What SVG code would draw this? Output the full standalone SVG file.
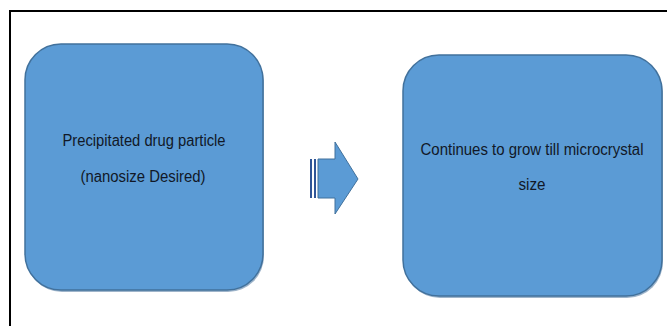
<svg xmlns="http://www.w3.org/2000/svg" width="667" height="326" viewBox="0 0 667 326">
<defs>
<style>
.box{fill:#5b9bd5;stroke:#41719c;stroke-width:1.5}
.shadow{fill:#3d6a96;opacity:0.5}
.t{font-family:"Liberation Sans",Arial,sans-serif;font-size:16px;fill:#111827;text-anchor:middle}
</style>
</defs>
<rect x="0" y="0" width="667" height="326" fill="#ffffff"/>
<rect x="10" y="11" width="670" height="330" fill="none" stroke="#000000" stroke-width="2"/>
<g id="node-precipitated">
<rect class="shadow" x="26" y="46" width="238" height="246" rx="36" ry="36"/>
<rect class="box" x="25" y="44" width="238" height="246" rx="36" ry="36"/>
<text class="t" x="144" y="146" textLength="163" lengthAdjust="spacingAndGlyphs">Precipitated drug particle</text>
<text class="t" x="143" y="182" textLength="125" lengthAdjust="spacingAndGlyphs">(nanosize Desired)</text>
</g>
<g id="node-microcrystal">
<rect class="shadow" x="404" y="57" width="259" height="241" rx="36" ry="36"/>
<rect class="box" x="403" y="55" width="259" height="241" rx="36" ry="36"/>
<text class="t" x="532" y="155" textLength="223" lengthAdjust="spacingAndGlyphs">Continues to grow till microcrystal</text>
<text class="t" x="532" y="190" textLength="27" lengthAdjust="spacingAndGlyphs">size</text>
</g>
<g id="connectors">
<rect x="310" y="159" width="2" height="39" fill="#2f5597"/>
<rect x="314" y="159" width="2" height="39" fill="#2f5597"/>
<polygon points="318,159 335,159 335,142 358,179 335,214 335,198 318,198" fill="#5b9bd5" stroke="#41719c" stroke-width="1"/>
</g>
</svg>
